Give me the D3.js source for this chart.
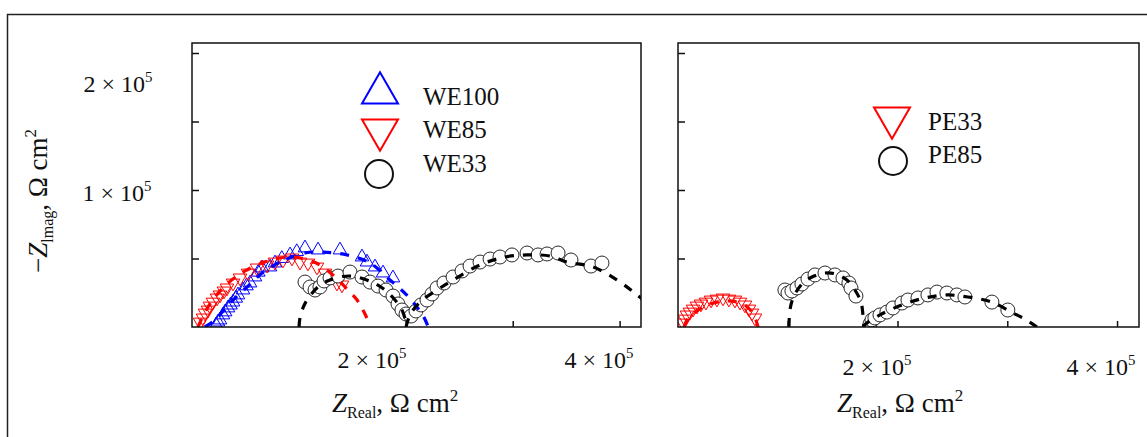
<!DOCTYPE html>
<html><head><meta charset="utf-8">
<script src="https://cdn.jsdelivr.net/npm/d3@7"></script>
<style>body{margin:0;background:#fff}svg{display:block}</style>
</head><body><svg id="c" width="1147" height="437"></svg>
<script>
// ---- DATA (values in kΩ·cm², i.e. ×10^3) ----
const xTickValues = [100, 200, 300, 400];
const yTickValues = [50, 100, 150, 200];
const xTickMantissas = ["2", "4"];
const yTickMantissas = ["2", "1"];

// Left panel: measured points
const WE100 = [[22.5,1.5],[24.3,3.6],[26.2,5.1],[29.0,8.8],[31.0,11.0],[33.7,13.9],[36.0,16.0],[38.4,18.2],[41.0,21.0],[43.0,23.4],[47.7,27.0],[51.0,30.0],[54.3,32.1],[58.9,36.5],[62.0,40.0],[65.5,43.1],[73.0,43.8],[77.6,46.7],[84.0,50.0],[91.7,52.6],[98.0,55.0],[105.7,57.7],[117.9,56.2],[138.4,56.2],[159.0,51.1],[163.7,47.4],[171.2,43.8],[178.7,39.4],[188.0,35.8]];
const WE85 = [[7.5,3.6],[10.3,6.6],[12.2,10.2],[15.0,12.4],[16.8,15.3],[19.6,18.2],[23.4,21.2],[26.2,23.4],[29.9,26.3],[32.7,28.5],[38.4,32.1],[44.9,35.8],[52.4,39.4],[60.8,43.1],[70.2,45.3],[77.6,47.4],[85.1,48.9],[93.5,50.4],[101.0,47.4],[108.5,46.7],[116.9,43.8],[124.4,39.4],[135.6,32.1],[140.3,30.7]];
const WE33 = [[105.7,32.8],[110.4,29.2],[115.1,27.0],[119.7,29.2],[123.5,33.6],[129.1,35.8],[136.6,37.2],[147.8,40.1],[159.0,36.5],[166.5,32.8],[174.0,29.9],[181.5,27.0],[188.0,22.6],[192.7,16.8],[196.4,12.4],[200.2,9.5],[204.9,8.0],[209.5,11.7],[214.2,16.1],[219.8,19.7],[224.5,24.1],[229.2,28.5],[235.7,32.1],[244.2,36.5],[252.6,40.9],[260.1,44.5],[269.4,47.4],[278.8,49.6],[288.1,51.1],[299.3,52.6],[313.4,54.0],[323.7,52.6],[332.1,53.3],[342.4,54.0],[354.5,48.9],[373.2,44.5],[383.5,46.7]];
// Left panel: fitted curves
const WE100fit = [[12,0],[21.5,5],[30,12.5],[38.4,19.7],[51.5,29.2],[65.5,39.4],[82.3,47.4],[105.7,54],[122.5,54.7],[145,52.6],[166.5,46.7],[185.2,34.3],[200,24],[210,15],[217,7],[221,0]];
const WE85fit = [[5.6,0],[12.2,10.9],[21.5,21.9],[33.7,32.1],[49.6,40.9],[68.3,47.4],[89.8,51.1],[105.7,49.6],[119.7,45.3],[133.8,36.5],[145.9,27.0],[154.4,19.7],[160.9,10.9],[166.5,1.5]];
const WE33fitA = [[100.1,0],[101.0,6.6],[103.8,13.9],[107.6,19.7],[117.9,29.2],[129.1,34.3],[147.8,37.2],[168.4,32.8],[180.5,27.0],[189.9,19.7],[196.4,12.4],[200.2,3.6],[201.1,0]];
const WE33fitB = [[200.2,0],[203.9,8.8],[213.3,18.2],[229.2,27.0],[244.2,34.3],[269.4,45.3],[292.8,51.1],[313.4,52.6],[334.9,51.8],[350.8,47.4],[375.1,43.8],[397.6,34.3],[416.3,23.4],[433.1,12.4]];

// Right panel: measured points
const PE33 = [[4.6,2.9],[6.4,5.8],[8.2,8.8],[10.9,10.9],[13.7,13.1],[17.3,15.3],[20.9,16.8],[25.5,18.2],[30.1,19.7],[35.5,20.4],[41.0,21.2],[46.4,20.4],[51.9,19.7],[56.5,18.2],[61.0,16.1],[64.7,13.1],[67.4,10.2],[70.1,6.6]];
const PE85 = [[97.4,27.0],[100.2,24.8],[103.8,26.3],[108.4,28.5],[112.9,31.4],[118.4,35.0],[124.8,38.0],[133.9,39.4],[143.0,38.0],[150.3,35.8],[155.7,32.1],[157.6,28.5],[162.1,22.6],[174.9,2.2],[176.7,5.1],[179.4,6.6],[184.0,8.8],[190.3,10.9],[195.8,13.9],[204.0,17.5],[209.5,19.7],[218.6,21.2],[227.7,23.4],[235.9,25.5],[245.0,24.8],[254.1,23.4],[261.4,21.9],[286.0,18.2],[300.5,12.4]];
const PE33fit = [[5.5,0],[8.2,5.1],[14.6,10.2],[24.6,15.3],[35.5,18.2],[44.6,19.0],[53.7,18.2],[61.9,15.3],[67.4,10.9],[71.0,5.1],[72.9,0]];
const PE85fitA = [[101.1,0],[102.0,12.4],[105.6,22.6],[113.8,32.1],[123.9,37.2],[133.9,39.4],[143.9,38.7],[153.9,34.3],[161.2,27.0],[166.7,18.2],[168.5,8.8],[169.4,0]];
const PE85fitB = [[168.5,0],[172.1,2.9],[184.0,8.8],[204.0,16.1],[225.0,21.2],[245.0,23.4],[264.1,21.9],[286.0,18.2],[305.1,10.2],[316.0,5.8],[327.0,0]];

const leftLegend = ["WE100", "WE85", "WE33"];
const rightLegend = ["PE33", "PE85"];

// ---- DRAWING ----
const FONT = "Liberation Serif, 'Times New Roman', serif";
const BLUE = "#0000ff", RED = "#ff0000", BLACK = "#000";
const svg = d3.select("#c");

svg.append("path").attr("d", "M7.5,437 V14.5 H1147")
  .attr("fill", "none").attr("stroke", "#222").attr("stroke-width", 1.5);

const y = d3.scaleLinear().domain([0, 207.3]).range([327, 43]);

function sci(g, x, yy, m, anchor, size) {
  const t = g.append("text").attr("x", x).attr("y", yy)
    .attr("font-family", FONT).attr("font-size", size).attr("text-anchor", anchor).attr("fill", "#111");
  t.append("tspan").text(m + " \u00d7 10");
  t.append("tspan").attr("dy", -size * 0.42).attr("font-size", size * 0.62).text("5");
  return t;
}

function panel(id, x0, x1) {
  const x = d3.scaleLinear().domain([0, 420]).range([x0, x1]);
  const g = svg.append("g");
  g.append("clipPath").attr("id", id).append("rect")
    .attr("x", x0).attr("y", 43).attr("width", x1 - x0).attr("height", 284);
  g.append("g").attr("transform", "translate(0,327)")
    .call(d3.axisBottom(x).tickValues(xTickValues).tickSizeInner(-6).tickSizeOuter(0).tickFormat(""))
    .call(a => { a.select(".domain").remove(); a.selectAll("line").attr("stroke-width", 1.5).attr("stroke", "#111"); });
  g.append("g").attr("transform", `translate(${x0},0)`)
    .call(d3.axisLeft(y).tickValues(yTickValues).tickSizeInner(-7).tickSizeOuter(0).tickFormat(""))
    .call(a => { a.select(".domain").remove(); a.selectAll("line").attr("stroke-width", 1.5).attr("stroke", "#111"); });
  const plot = g.append("g").attr("clip-path", `url(#${id})`);
  return { x, g, plot };
}

function triangles(plot, x, data, color, down) {
  plot.append("g").selectAll("path").data(data).join("path")
    .attr("d", d3.symbol(d3.symbolTriangle, 80))
    .attr("transform", d => `translate(${x(d[0])},${y(d[1])})${down ? " rotate(180)" : ""}`)
    .attr("fill", "none").attr("stroke", color).attr("stroke-width", 1);
}
function circles(plot, x, data) {
  plot.append("g").selectAll("circle").data(data).join("circle")
    .attr("cx", d => x(d[0])).attr("cy", d => y(d[1])).attr("r", 7)
    .attr("fill", "#fff").attr("stroke", "#111").attr("stroke-width", 0.9);
}
function fit(plot, x, data, color) {
  const line = d3.line().x(d => x(d[0])).y(d => y(d[1])).curve(d3.curveCatmullRom);
  plot.append("path").datum(data).attr("d", line)
    .attr("fill", "none").attr("stroke", color).attr("stroke-width", 3.2)
    .attr("stroke-dasharray", "9,9");
}

// Left panel
const L = panel("clipL", 192, 641);
triangles(L.plot, L.x, WE100, BLUE, false);
triangles(L.plot, L.x, WE85, RED, true);
circles(L.plot, L.x, WE33);
fit(L.plot, L.x, WE100fit, BLUE);
fit(L.plot, L.x, WE85fit, RED);
fit(L.plot, L.x, WE33fitA, BLACK);
fit(L.plot, L.x, WE33fitB, BLACK);
L.g.append("rect").attr("x", 192).attr("y", 43).attr("width", 449).attr("height", 284)
  .attr("fill", "none").attr("stroke", "#111").attr("stroke-width", 1.5);

// Right panel
const R = panel("clipR", 678, 1139);
triangles(R.plot, R.x, PE33, RED, true);
circles(R.plot, R.x, PE85);
fit(R.plot, R.x, PE33fit, RED);
fit(R.plot, R.x, PE85fitA, BLACK);
fit(R.plot, R.x, PE85fitB, BLACK);
R.g.append("rect").attr("x", 678).attr("y", 43).attr("width", 461).attr("height", 284)
  .attr("fill", "none").attr("stroke", "#111").attr("stroke-width", 1.5);

// Tick labels (positioned as in the original figure)
sci(svg, 118, 92, yTickMantissas[0], "middle", 24);
sci(svg, 117, 201, yTickMantissas[1], "middle", 24);
sci(svg, 372, 368, xTickMantissas[0], "middle", 24);
sci(svg, 599, 368, xTickMantissas[1], "middle", 24);
sci(svg, 877, 375, xTickMantissas[0], "middle", 24);
sci(svg, 1101, 375, xTickMantissas[1], "middle", 24);

// Axis titles
function xTitle(x0) {
  const t = svg.append("text").attr("x", x0).attr("y", 412)
    .attr("font-family", FONT).attr("font-size", 27).attr("fill", "#111");
  t.append("tspan").attr("font-style", "italic").text("Z");
  t.append("tspan").attr("font-size", 16).attr("dy", 6).text("Real");
  t.append("tspan").attr("dy", -6).text(", \u03a9 cm");
  t.append("tspan").attr("font-size", 17).attr("dy", -11).text("2");
}
xTitle(332);
xTitle(837);
{
  const t = svg.append("text").attr("transform", "translate(47,273) rotate(-90)")
    .attr("font-family", FONT).attr("font-size", 27).attr("fill", "#111");
  t.append("tspan").text("\u2212");
  t.append("tspan").attr("font-style", "italic").text("Z");
  t.append("tspan").attr("font-size", 16).attr("dy", 6).text("lmag");
  t.append("tspan").attr("dy", -6).text(", \u03a9 cm");
  t.append("tspan").attr("font-size", 17).attr("dy", -11).text("2");
}

// Legends
function legTri(cx, cy, color, down) {
  svg.append("path").attr("d", d3.symbol(d3.symbolTriangle, 560))
    .attr("transform", `translate(${cx},${cy})${down ? " rotate(180)" : ""}`)
    .attr("fill", "none").attr("stroke", color).attr("stroke-width", 2);
}
function legCirc(cx, cy) {
  svg.append("circle").attr("cx", cx).attr("cy", cy).attr("r", 14)
    .attr("fill", "none").attr("stroke", "#111").attr("stroke-width", 2);
}
function legText(x0, y0, s) {
  svg.append("text").attr("x", x0).attr("y", y0).attr("font-family", FONT)
    .attr("font-size", 25).attr("fill", "#111").text(s);
}
legTri(380, 93, BLUE, false);
legTri(380, 130, RED, true);
legCirc(379, 174);
legText(423, 105, leftLegend[0]);
legText(423, 138, leftLegend[1]);
legText(423, 172, leftLegend[2]);
legTri(892, 118, RED, true);
legCirc(893, 161);
legText(928, 130, rightLegend[0]);
legText(928, 163, rightLegend[1]);
</script></body></html>
